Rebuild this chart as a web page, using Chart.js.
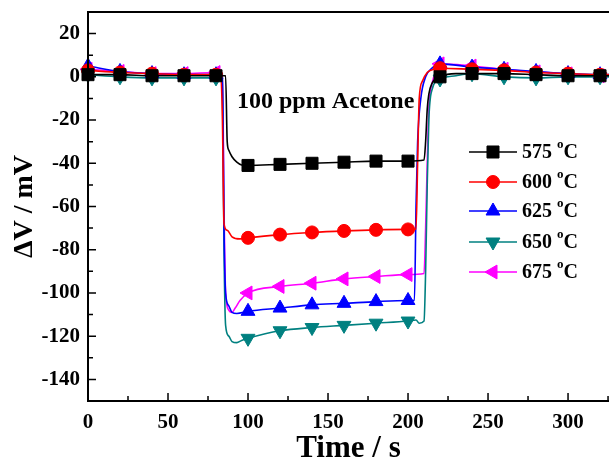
<!DOCTYPE html>
<html><head><meta charset="utf-8">
<script src="https://cdn.jsdelivr.net/npm/chart.js@4/dist/chart.umd.min.js"></script>
<style>html,body{margin:0;padding:0;background:#fff;overflow:hidden}</style>
</head><body>
<canvas id="c" width="609" height="460"></canvas>
<script>
// ---- data ----
const seriesNames = ['575', '600', '625', '650', '675'];
const xTickLabels = [0, 50, 100, 150, 200, 250, 300];
const yTickLabels = [-140, -120, -100, -80, -60, -40, -20, 0, 20];

const t575 = [0, 20, 40, 60, 80, 86, 87, 88, 90, 93, 96, 100, 120, 140, 160, 180, 200, 210, 211, 212, 213, 215, 220, 230, 240, 260, 280, 300, 320, 328];
const v575 = [1, 1, 0.5, 0.5, 0.5, 0.5, -30, -34, -37, -39.5, -40.8, -41, -40.5, -40, -39.5, -39, -39, -38.5, -30, -15, -8, -3, 0, 1.5, 1.5, 1.5, 1, 0.5, 0.5, 0.5];

const t600 = [0, 20, 40, 60, 80, 83, 84, 85, 87, 90, 95, 100, 120, 140, 160, 180, 200, 205, 206, 207, 209, 212, 216, 220, 240, 260, 280, 300, 320, 328];
const v600 = [3, 2, 1.5, 1, 1, 1, -20, -68, -71, -74, -75, -74.5, -73, -72, -71.3, -70.8, -70.6, -70.5, -40, -10, -2, 2, 3.5, 4, 3.5, 3, 2, 1.5, 1, 1];

const t625 = [0, 20, 40, 60, 80, 84, 85, 86, 88, 90, 93, 100, 120, 140, 160, 180, 200, 204, 205, 206, 208, 211, 215, 220, 240, 260, 280, 300, 320, 328];
const v625 = [5, 2.5, 1.5, 1, 1, 1, -70, -100, -106, -109, -109.5, -108.5, -107, -105.5, -104.8, -104, -103.5, -103.5, -60, -30, -10, 0, 4, 6, 4.5, 3.5, 2.5, 1.5, 1, 1];

const t650 = [0, 20, 40, 60, 80, 84, 85, 86, 88, 90, 93, 96, 100, 120, 140, 160, 180, 200, 205, 207, 210, 211, 212, 213, 215, 220, 230, 240, 260, 280, 300, 320, 328];
const v650 = [1, 0, -0.5, -0.5, -0.5, -0.5, -80, -115, -120, -122.5, -123, -122, -121, -117.5, -116, -115, -114, -113, -112.5, -114, -113, -90, -50, -20, -6, -1, 0.5, 1.4, 0, -0.5, 0, 0, 0];

const t675 = [0, 20, 40, 60, 80, 84, 85, 86, 88, 90, 92, 95, 100, 120, 140, 160, 180, 200, 210, 211, 212, 213, 215, 218, 220, 240, 260, 280, 300, 320, 328];
const v675 = [3.5, 2.5, 1.5, 1.5, 2, 1.5, -60, -100, -108, -109, -107, -103.5, -100, -97, -95.5, -93.5, -92.4, -91.5, -91, -70, -40, -15, -3, 3, 6, 5, 3.5, 2.3, 1.4, 0.5, 0.3];

const colors = ['#000000', '#ff0000', '#0000ff', '#008080', '#ff00ff'];
const styles = [
  {pointStyle: 'rect', rotation: 0, radius: 8.5},
  {pointStyle: 'circle', rotation: 0, radius: 6.5},
  {pointStyle: 'triangle', rotation: 0, radius: 8},
  {pointStyle: 'triangle', rotation: 180, radius: 8},
  {pointStyle: 'triangle', rotation: 270, radius: 8}
];
const times = [t575, t600, t625, t650, t675];
const values = [v575, v600, v625, v650, v675];

const FONT = '"Liberation Serif", "Times New Roman", serif';

const datasets = seriesNames.map((n, i) => ({
  label: n + ' °C',
  data: times[i].map((x, k) => ({x: x, y: values[i][k]})),
  borderColor: colors[i],
  backgroundColor: colors[i],
  borderWidth: 1.6,
  pointStyle: styles[i].pointStyle,
  pointRotation: styles[i].rotation,
  pointRadius: ctx => (ctx.raw && ctx.raw.x % 20 === 0 && ctx.raw.x <= 320) ? styles[i].radius : 0,
  pointHoverRadius: 0,
  pointBorderWidth: 1,
  cubicInterpolationMode: 'monotone',
  clip: false
}));

function drawMarker(ctx, st, color, x, y) {
  ctx.save();
  ctx.fillStyle = color; ctx.strokeStyle = color; ctx.lineWidth = 1;
  if (Chart.helpers && Chart.helpers.drawPoint) {
    Chart.helpers.drawPoint(ctx, {pointStyle: st.pointStyle, rotation: st.rotation, radius: st.radius, borderWidth: 1}, x, y);
  }
  ctx.restore();
}

const framePlugin = {
  id: 'frame',
  afterDraw(chart) {
    const {ctx, chartArea: a, scales} = chart;
    const W = chart.width;
    ctx.save();
    ctx.strokeStyle = '#000';
    ctx.lineWidth = 2;
    ctx.beginPath();
    ctx.moveTo(W, a.top); ctx.lineTo(a.left, a.top); ctx.lineTo(a.left, a.bottom); ctx.lineTo(W, a.bottom);
    ctx.stroke();
    ctx.lineWidth = 1.5;
    ctx.beginPath();
    for (let v = -150; v <= 30; v += 10) {
      const y = scales.y.getPixelForValue(v);
      const len = (v % 20 === 0) ? 8 : 5;
      ctx.moveTo(a.left, y); ctx.lineTo(a.left + len, y);
    }
    for (let v = 0; v <= 325; v += 25) {
      const x = scales.x.getPixelForValue(v);
      const len = (v % 50 === 0) ? 8 : 5;
      ctx.moveTo(x, a.bottom); ctx.lineTo(x, a.bottom - len);
    }
    ctx.stroke();

    // annotation
    ctx.fillStyle = '#000';
    ctx.font = 'bold 24px ' + FONT;
    ctx.textBaseline = 'alphabetic';
    ctx.textAlign = 'left';
    ctx.fillText('100 ppm Acetone', 237, 108);

    // legend
    const rows = [152, 182, 211, 242, 272];
    chart.data.datasets.forEach((ds, i) => {
      const y = rows[i];
      ctx.strokeStyle = colors[i];
      ctx.lineWidth = 1.6;
      ctx.beginPath(); ctx.moveTo(469, y); ctx.lineTo(517, y); ctx.stroke();
      drawMarker(ctx, styles[i], colors[i], 493, y);
      ctx.fillStyle = '#000';
      ctx.font = 'bold 20px ' + FONT;
      ctx.textBaseline = 'middle';
      const s1 = seriesNames[i] + ' ';
      ctx.fillText(s1, 522, y + 1);
      let x = 522 + ctx.measureText(s1).width;
      ctx.font = 'bold 13px ' + FONT;
      ctx.fillText('o', x, y - 7);
      x += ctx.measureText('o').width;
      ctx.font = 'bold 20px ' + FONT;
      ctx.fillText('C', x, y + 1);
    });
    ctx.restore();
  }
};

new Chart(document.getElementById('c'), {
  type: 'line',
  data: {datasets},
  options: {
    responsive: false,
    animation: false,
    devicePixelRatio: 1,
    layout: {autoPadding: false, padding: {top: 12, right: 0, left: 0, bottom: 0}},
    plugins: {legend: {display: false}, tooltip: {enabled: false}},
    scales: {
      x: {
        type: 'linear', min: 0, max: 325.6,
        afterBuildTicks: s => { s.ticks = xTickLabels.map(v => ({value: v})); },
        afterFit: s => { s.height = 59; s.paddingLeft = 0; s.paddingRight = 0; },
        grid: {display: false, drawTicks: false},
        border: {display: false},
        ticks: {color: '#000', font: {family: FONT, size: 21, weight: 'bold'}, padding: 9, maxRotation: 0},
        title: {display: true, text: 'Time / s', color: '#000', font: {family: FONT, size: 31, weight: 'bold', lineHeight: 0.72}, padding: 0}
      },
      y: {
        type: 'linear', min: -150, max: 30,
        afterBuildTicks: s => { s.ticks = yTickLabels.map(v => ({value: v})); },
        afterFit: s => { s.width = 88; s.paddingTop = 0; s.paddingBottom = 0; },
        grid: {display: false, drawTicks: false},
        border: {display: false},
        ticks: {color: '#000', font: {family: FONT, size: 21, weight: 'bold'}, padding: 8},
        title: {display: true, text: 'ΔV / mV', color: '#000', font: {family: FONT, size: 28, weight: 'bold', lineHeight: 1}, padding: {top: 11, bottom: 0}}
      }
    }
  },
  plugins: [framePlugin]
});
</script>
</body></html>
